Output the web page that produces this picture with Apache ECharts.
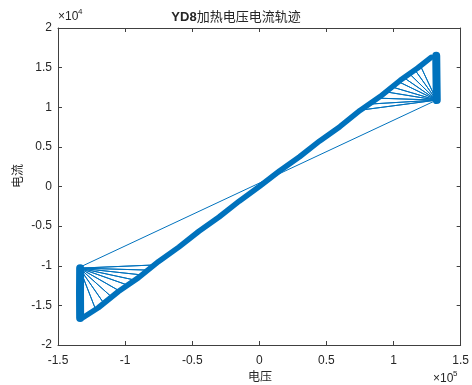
<!DOCTYPE html>
<html>
<head>
<meta charset="utf-8">
<script src="https://cdn.jsdelivr.net/npm/echarts@6/dist/echarts.min.js"></script>
<style>html,body{margin:0;padding:0;background:#fff;}#c{width:472px;height:385px;}</style>
</head>
<body>
<div id="c"></div>
<script>
// Values (voltage in V, current in A)
const xTicks = [-150000, -100000, -50000, 0, 50000, 100000, 150000];
const yTicks = [-20000, -15000, -10000, -5000, 0, 5000, 10000, 15000, 20000];

const bandVoltage = [-131000, -120000, -105000, -90000, -75000, -60000, -45000, -30000, -15000, 0, 15000, 30000, 45000, 60000, 75000, 90000, 105000, 118000, 128000];
const bandCurrent = [-16500, -15300, -13250, -11500, -9450, -7650, -5650, -3850, -1850, 0, 1950, 3750, 5750, 7550, 9600, 11350, 13400, 14950, 16300];

const rightBarVoltage = [131800, 132000, 132200];
const rightBarCurrent = [16500, 13500, 10900];
const leftBarVoltage = [-133500, -133600, -133500];
const leftBarCurrent = [-10300, -13500, -16600];

const rightCorner = [132000, 10900];
const rightFanVoltage = [76000, 82000, 88000, 94000, 99000, 104000, 108000, 112000, 116000, 120000];
const rightFanCurrent = [9650, 10400, 11150, 11950, 12550, 13200, 13700, 14200, 14700, 15250];

const leftCorner = [-134000, -10300];
const leftFanVoltage = [-122000, -116000, -110000, -104000, -98000, -93000, -88000, -83000, -78000];
const leftFanCurrent = [-15500, -14700, -13950, -13200, -12450, -11800, -11150, -10550, -9900];

const longLineVoltage = [-134000, 132000];
const longLineCurrent = [-10200, 10900];

function zip(xs, ys) { return xs.map((x, i) => [x, ys[i]]); }
function fan(corner, xs, ys) {
  const out = [corner];
  xs.forEach((x, i) => { out.push([x, ys[i]]); out.push(corner); });
  return out;
}

const color = '#0072BD';
const axisColor = '#404040';
const textColor = '#262626';
const fontLat = '"Liberation Sans", Arial, sans-serif';
const fontCJK = '"Liberation Sans", "Noto Sans CJK SC", sans-serif';

function lineSeries(data, width) {
  return { type: 'line', data: data, showSymbol: false, symbol: 'none', animation: false,
    lineStyle: { color: color, width: width, cap: 'round', join: 'round' }, itemStyle: { color: color } };
}

const chart = echarts.init(document.getElementById('c'), null, { renderer: 'canvas' });
const baseX = { type: 'value', min: xTicks[0], max: xTicks[xTicks.length - 1], interval: 50000,
  splitLine: { show: false },
  axisLine: { show: true, onZero: false, lineStyle: { color: axisColor, width: 1 } },
  axisTick: { show: true, inside: true, length: 4, lineStyle: { color: axisColor } } };
const baseY = { type: 'value', min: yTicks[0], max: yTicks[yTicks.length - 1], interval: 5000,
  splitLine: { show: false },
  axisLine: { show: true, onZero: false, lineStyle: { color: axisColor, width: 1 } },
  axisTick: { show: true, inside: true, length: 4, lineStyle: { color: axisColor } } };

chart.setOption({
  animation: false,
  grid: { left: 58, right: 10, top: 28, bottom: 40, containLabel: false },
  xAxis: [
    Object.assign({}, baseX, { position: 'bottom',
      axisLabel: { show: true, margin: 10, color: textColor, fontSize: 12, fontFamily: fontLat,
        formatter: v => String(Math.round(v / 10000) / 10) } }),
    Object.assign({}, baseX, { position: 'top', axisLabel: { show: false } })
  ],
  yAxis: [
    Object.assign({}, baseY, { position: 'left',
      axisLabel: { show: true, margin: 6, color: textColor, fontSize: 12, fontFamily: fontLat,
        formatter: v => String(Math.round(v / 1000) / 10) } }),
    Object.assign({}, baseY, { position: 'right', axisLabel: { show: false } })
  ],
  series: [
    lineSeries(zip(longLineVoltage, longLineCurrent), 1),
    lineSeries(fan(rightCorner, rightFanVoltage, rightFanCurrent), 1),
    lineSeries(fan(leftCorner, leftFanVoltage, leftFanCurrent), 1),
    lineSeries(zip(bandVoltage, bandCurrent), 5.5),
    lineSeries(zip(rightBarVoltage, rightBarCurrent), 8),
    lineSeries(zip(leftBarVoltage, leftBarCurrent), 8)
  ],
  graphic: [
    { type: 'text', left: 'center', top: 11, style: {
      text: '{a|YD8}{b|加热电压电流轨迹}',
      rich: { a: { fontSize: 13, fontWeight: 'bold', fontFamily: fontLat, fill: textColor },
              b: { fontSize: 13, fontFamily: fontCJK, fill: textColor } } } },
    { type: 'text', x: 58, y: 11, style: { text: '×10', fontSize: 12, fontFamily: fontLat, fill: textColor } },
    { type: 'text', x: 78, y: 8, style: { text: '4', fontSize: 8, fontFamily: fontLat, fill: textColor } },
    { type: 'text', x: 433, y: 373, style: { text: '×10', fontSize: 12, fontFamily: fontLat, fill: textColor } },
    { type: 'text', x: 453, y: 370, style: { text: '5', fontSize: 8, fontFamily: fontLat, fill: textColor } },
    { type: 'text', x: 260, y: 378, style: { text: '电压', fontSize: 12, fontFamily: fontCJK, fill: textColor,
      align: 'center', verticalAlign: 'middle' } },
    { type: 'group', x: 19, y: 176, rotation: Math.PI / 2, children: [
      { type: 'text', x: 0, y: 0, style: { text: '电流', fontSize: 12, fontFamily: fontCJK, fill: textColor,
        align: 'center', verticalAlign: 'middle' } } ] }
  ]
});
</script>
</body>
</html>
